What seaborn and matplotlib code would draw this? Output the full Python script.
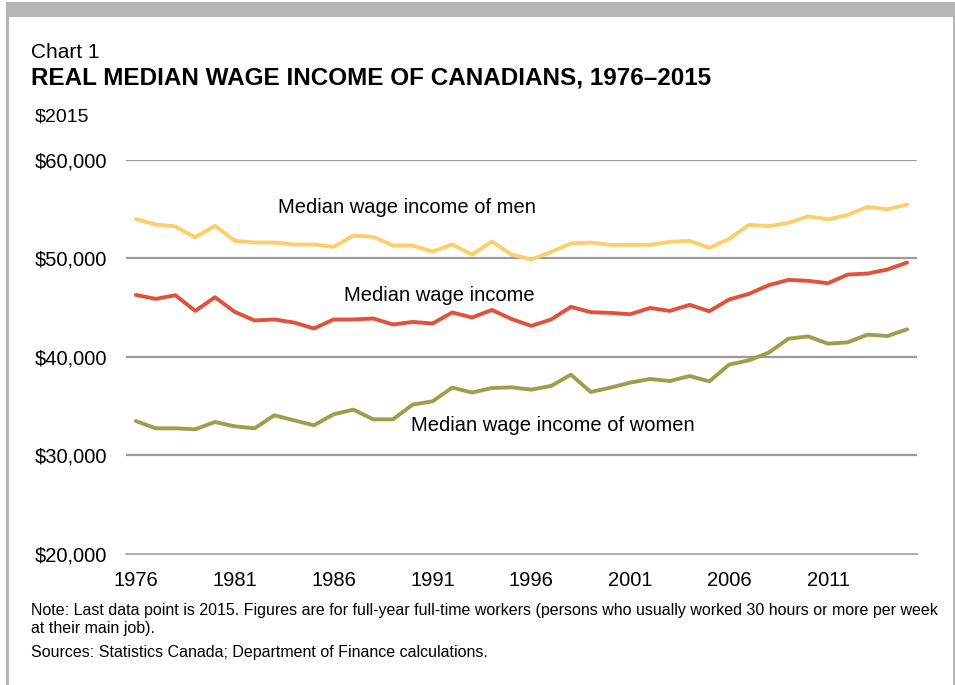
import matplotlib
matplotlib.use("Agg")
import matplotlib.pyplot as plt
import matplotlib.patches as mpatches
import numpy as np
import pandas as pd
import seaborn as sns

years = list(range(1976, 2016))

# 2015 dollars
men = [54000, 53450, 53250, 52160, 53310, 51790, 51620, 51620, 51420, 51420,
       51180, 52330, 52200, 51320, 51320, 50710, 51420, 50400, 51720, 50400,
       49900, 50670, 51520, 51620, 51380, 51380, 51380, 51690, 51790, 51080,
       51990, 53410, 53280, 53620, 54290, 53960, 54430, 55240, 55000, 55480]
median = [46300, 45900, 46270, 44680, 46070, 44580, 43710, 43810, 43500, 42890,
          43810, 43810, 43910, 43300, 43560, 43400, 44520, 44010, 44780, 43850,
          43160, 43810, 45090, 44550, 44480, 44340, 44980, 44680, 45290, 44650,
          45840, 46410, 47290, 47830, 47730, 47490, 48370, 48470, 48880, 49590]
women = [33500, 32760, 32760, 32660, 33400, 32960, 32760, 34080, 33570, 33070,
         34180, 34660, 33670, 33670, 35170, 35500, 36890, 36390, 36850, 36920,
         36690, 37060, 38210, 36450, 36890, 37400, 37770, 37560, 38070, 37530,
         39230, 39660, 40440, 41860, 42090, 41350, 41490, 42270, 42130, 42810]

series = ["Median wage income of men", "Median wage income", "Median wage income of women"]
colors = ["#FDCF6B", "#E0523A", "#9BA04B"]
label_pos = [(1983.2, 55200), (1986.5, 46270), (1989.9, 33000)]

year_labels = [1976, 1981, 1986, 1991, 1996, 2001, 2006, 2011]
y_ticks = [20000, 30000, 40000, 50000, 60000]

df = pd.DataFrame({"year": years * 3,
                   "income": men + median + women,
                   "series": [s for s in series for _ in years]})

sns.set_style("white")
plt.rcParams["font.family"] = ["Liberation Sans", "DejaVu Sans"]
plt.rcParams["text.color"] = "black"
plt.rcParams["xtick.color"] = "black"
plt.rcParams["ytick.color"] = "black"

fig = plt.figure(figsize=(9.55, 6.85), dpi=100)
ax = fig.add_axes([126 / 955, 1 - 554 / 685, (917 - 126) / 955, (554 - 160) / 685])

for y in y_ticks[1:]:
    ax.axhline(y, color="#9a9a9a", lw=1.6, zorder=1)

sns.lineplot(data=df, x="year", y="income", hue="series", hue_order=series,
             palette=colors, linewidth=2.8, legend=False, ax=ax, zorder=3)

for s, (tx, ty) in zip(series, label_pos):
    ax.text(tx, ty, s, fontsize=14.5, ha="left", va="center", color="black")

ax.set_xlim(1975.5, 2015.5)
ax.set_ylim(20000, 60000)
ax.set_yticks(y_ticks)
ax.set_yticklabels(["${:,}".format(v) for v in y_ticks], fontsize=14.5)
ax.set_xticks(year_labels)
ax.set_xticklabels([str(v) for v in year_labels], fontsize=14.5)
ax.set_xticks(np.arange(1975.5, 2016, 5), minor=True)
ax.tick_params(axis="x", which="major", length=0, pad=12)
ax.tick_params(axis="x", which="minor", length=5, width=1, color="#a0a0a0", direction="out")
ax.tick_params(axis="y", length=0, pad=13.5)
ax.set_xlabel("")
ax.set_ylabel("")
for side in ["top", "right", "left"]:
    ax.spines[side].set_visible(False)
ax.spines["bottom"].set_color("#a0a0a0")
ax.spines["bottom"].set_linewidth(1.2)
ax.spines["bottom"].set_zorder(2)

# frame around the chart
fig.patches.append(mpatches.Rectangle((6 / 955, 1 - 17 / 685), 949 / 955, 15 / 685,
                                      transform=fig.transFigure, color="#b5b5b5", lw=0))
fig.patches.append(mpatches.Rectangle((6 / 955, 0), 3 / 955, 1 - 17 / 685,
                                      transform=fig.transFigure, color="#b5b5b5", lw=0))
fig.patches.append(mpatches.Rectangle((953 / 955, 0), 1.5 / 955, 1 - 17 / 685,
                                      transform=fig.transFigure, color="#b5b5b5", lw=0))

fig.text(31 / 955, 1 - 52 / 685, "Chart 1", fontsize=15, va="center")
fig.text(31 / 955, 1 - 78 / 685, "REAL MEDIAN WAGE INCOME OF CANADIANS, 1976\u20132015",
         fontsize=17.5, weight="bold", va="center")
fig.text(35 / 955, 1 - 117 / 685, "$2015", fontsize=14, va="center")
fig.text(31 / 955, 1 - 610 / 685,
         "Note: Last data point is 2015. Figures are for full-year full-time workers "
         "(persons who usually worked 30 hours or more per week",
         fontsize=11.5, va="center")
fig.text(31 / 955, 1 - 629 / 685, "at their main job).", fontsize=11.5, va="center")
fig.text(31 / 955, 1 - 653 / 685, "Sources: Statistics Canada; Department of Finance calculations.",
         fontsize=11.5, va="center")

fig.savefig("out.png", dpi=100)
